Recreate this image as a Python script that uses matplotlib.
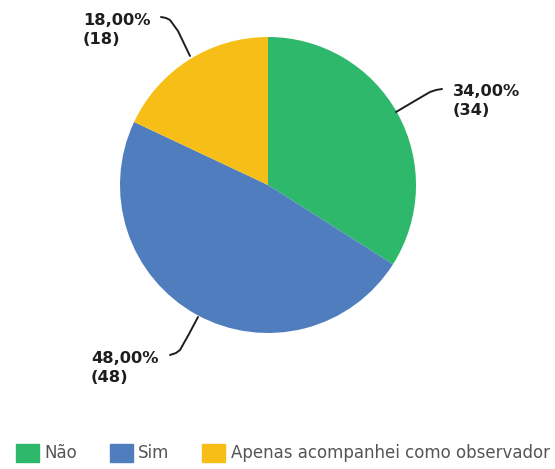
import matplotlib
matplotlib.use("Agg")
import matplotlib.pyplot as plt
from matplotlib.patches import Patch

categories = ["Não", "Sim", "Apenas acompanhei como observador"]
values = [34, 48, 18]
percent_labels = ["34,00%\n(34)", "48,00%\n(48)", "18,00%\n(18)"]
colors = ["#2DB86B", "#4F7DBE", "#F6BE17"]

W, H = 555, 469
fig = plt.figure(figsize=(W / 100, H / 100), dpi=100)
ax = fig.add_axes([0, 0, 1, 1])

cx, cy, r = 268, H - 185, 148
wedges, _ = ax.pie(values, colors=colors, startangle=90, counterclock=False,
                   center=(cx, cy), radius=r, frame=True,
                   wedgeprops=dict(linewidth=0))
ax.set_xlim(0, W)
ax.set_ylim(0, H)
ax.set_aspect("equal")
ax.axis("off")

# leader lines (pixel coords, y from top) and label positions
leaders = [
    [(396, 112), (418, 99), (430, 92), (436, 90), (442, 89)],
    [(198, 317), (189, 334), (180, 350), (176, 353), (170, 355)],
    [(190, 56), (178, 31), (170, 20), (166, 18), (161, 17)],
]
text_pos = [(453, 101), (91, 368), (83, 30)]

for pts, (tx, ty), lab in zip(leaders, text_pos, percent_labels):
    xs = [p[0] for p in pts]
    ys = [H - p[1] for p in pts]
    ax.plot(xs, ys, color="#1e1e1e", lw=1.4, solid_capstyle="round",
            solid_joinstyle="round")
    ax.text(tx, H - ty, lab, ha="left", va="center", fontsize=11.7,
            fontweight="bold", color="#1e1e1e", linespacing=1.3)

handles = [Patch(facecolor=c, edgecolor=c, label=l) for c, l in zip(colors, categories)]
leg = ax.legend(handles=handles, loc="center", bbox_to_anchor=(283 / W, 1 - 453 / H),
                ncol=3, frameon=False, fontsize=12.0, handlelength=1.35, handleheight=1.35,
                handletextpad=0.35, columnspacing=1.95, labelcolor="#555555")

fig.savefig("out.png", dpi=100)
